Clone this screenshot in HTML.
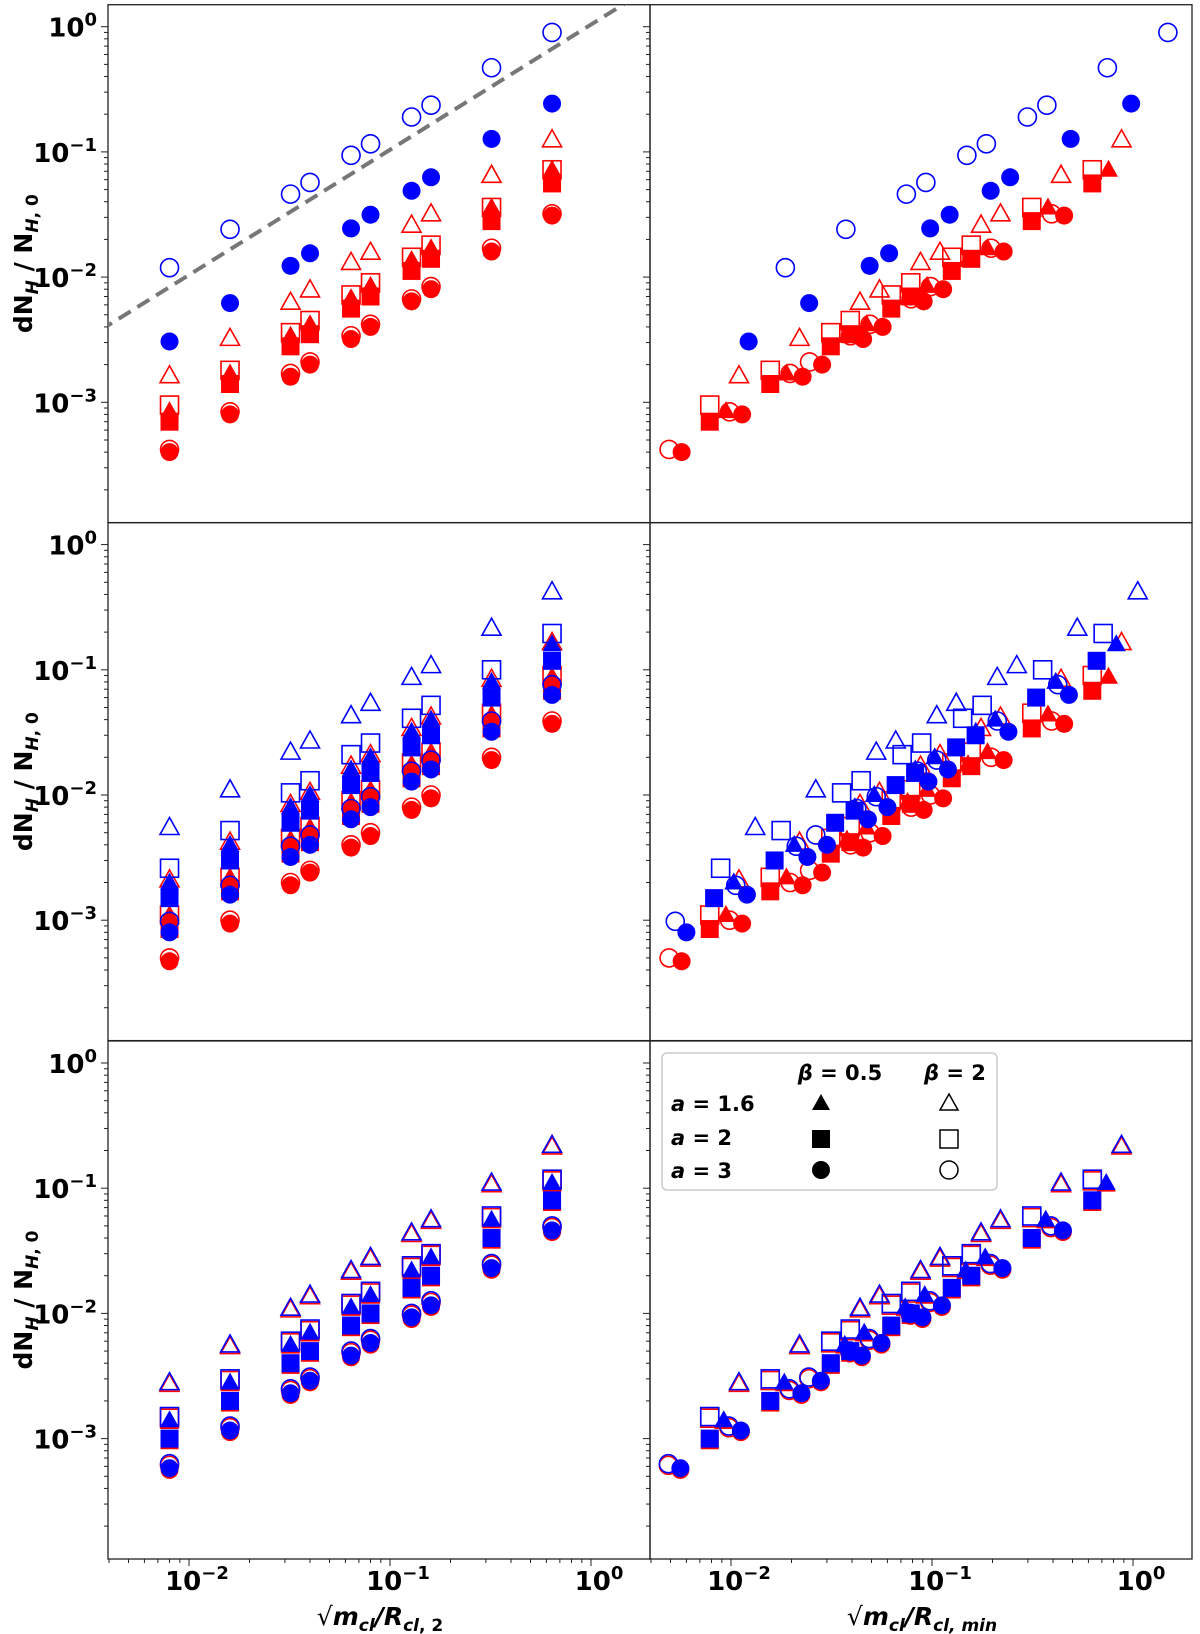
<!DOCTYPE html>
<html><head><meta charset="utf-8"><style>
body{margin:0;background:#fff}
svg{display:block;font-family:"DejaVu Sans","Liberation Sans",sans-serif}
</style></head><body>
<svg id="fig" width="1200" height="1634" viewBox="0 0 1200 1634" xmlns="http://www.w3.org/2000/svg">
<defs>
<clipPath id="clipTL"><rect x="108" y="4.7" width="542" height="518"/></clipPath>
</defs>
<g id="panels"></g>
<g id="labels"></g>
<g id="legend">
  <rect x="662" y="1053" width="335" height="137" rx="5" fill="#fff" stroke="#ccc" stroke-width="1.5"/>
  <text x="840" y="1080" text-anchor="middle" font-size="21" font-weight="bold"><tspan font-style="italic">β</tspan> = 0.5</text>
  <text x="955" y="1080" text-anchor="middle" font-size="21" font-weight="bold"><tspan font-style="italic">β</tspan> = 2</text>
  <text x="671" y="1111" font-size="21" font-weight="bold"><tspan font-style="italic">a</tspan> = 1.6</text>
  <text x="671" y="1145" font-size="21" font-weight="bold"><tspan font-style="italic">a</tspan> = 2</text>
  <text x="671" y="1178" font-size="21" font-weight="bold"><tspan font-style="italic">a</tspan> = 3</text>
  <polygon points="821,1094 830,1110 812,1110" fill="#000"/>
  <polygon points="949,1094 958,1110 940,1110" fill="none" stroke="#000" stroke-width="1.5"/>
  <rect x="812" y="1130" width="18" height="18" fill="#000"/>
  <rect x="940" y="1130" width="18" height="18" fill="none" stroke="#000" stroke-width="1.5"/>
  <circle cx="821" cy="1170" r="9" fill="#000"/>
  <circle cx="949" cy="1170" r="9" fill="none" stroke="#000" stroke-width="1.5"/>
</g>
</svg>
<script>
const xVals=[0.008,0.016,0.032,0.04,0.064,0.08,0.128,0.16,0.32,0.64];
// Row 1 (top)
const r1BlueOpenCirc=[0.0119,0.0241,0.046,0.057,0.094,0.116,0.19,0.236,0.47,0.9];
const r1BlueFillCirc=[0.00306,0.0062,0.0123,0.0155,0.0245,0.0315,0.0489,0.0627,0.127,0.243];
const r1RedOpenTri=[0.00163,0.00324,0.0063,0.0079,0.0131,0.0158,0.026,0.032,0.065,0.125];
const r1RedFillTri=[0.00085,0.0017,0.0034,0.0042,0.0068,0.0085,0.0137,0.017,0.036,0.072];
const r1RedOpenSq=[0.00095,0.0018,0.0036,0.0045,0.0072,0.009,0.0144,0.018,0.036,0.072];
const r1RedFillSq=[0.0007,0.0014,0.0028,0.0035,0.0056,0.007,0.0112,0.014,0.028,0.056];
const r1RedFillCirc=[0.0004,0.0008,0.0016,0.002,0.0032,0.004,0.0064,0.008,0.016,0.031];
const r1RedOpenCirc=[0.00042,0.00084,0.0017,0.0021,0.0034,0.0042,0.0067,0.0084,0.017,0.032];
// Row 2 (middle)
const r2BlueOpenTri=[0.0055,0.011,0.022,0.027,0.043,0.054,0.087,0.108,0.215,0.42];
const r2BlueOpenSq=[0.0026,0.0052,0.0104,0.013,0.021,0.026,0.041,0.052,0.1,0.195];
const r2BlueFillTri=[0.002,0.004,0.008,0.01,0.016,0.02,0.032,0.04,0.08,0.16];
const r2BlueFillSq=[0.0015,0.003,0.006,0.0075,0.012,0.015,0.024,0.03,0.06,0.118];
const r2BlueFillCirc=[0.0008,0.0016,0.0032,0.004,0.0064,0.008,0.0128,0.016,0.032,0.063];
const r2BlueOpenCirc=[0.00098,0.0019,0.0039,0.0048,0.0078,0.0097,0.0155,0.019,0.039,0.076];
const r2RedOpenTri=[0.0021,0.0042,0.0084,0.0105,0.017,0.021,0.034,0.042,0.084,0.165];
const r2RedFillTri=[0.0011,0.0022,0.0044,0.0055,0.0088,0.011,0.0176,0.022,0.044,0.088];
const r2RedOpenSq=[0.0011,0.0022,0.0045,0.0056,0.009,0.011,0.018,0.022,0.045,0.09];
const r2RedFillSq=[0.00085,0.0017,0.0034,0.0042,0.0068,0.0085,0.0136,0.017,0.034,0.068];
const r2RedFillCirc=[0.00047,0.00094,0.0019,0.0024,0.0038,0.0047,0.0076,0.0094,0.019,0.037];
const r2RedOpenCirc=[0.0005,0.001,0.002,0.0025,0.004,0.005,0.008,0.01,0.02,0.039];
// Row 3 (bottom)
const r3OpenTri=[0.0028,0.0056,0.011,0.014,0.022,0.028,0.044,0.056,0.11,0.22];
const r3OpenSq=[0.0015,0.003,0.006,0.0075,0.012,0.015,0.024,0.03,0.06,0.118];
const r3FillTri=[0.0014,0.0028,0.0056,0.007,0.0112,0.014,0.022,0.028,0.056,0.11];
const r3FillSq=[0.001,0.002,0.004,0.005,0.008,0.01,0.016,0.02,0.04,0.08];
const r3FillCirc=[0.00058,0.00116,0.0023,0.0029,0.0046,0.0058,0.0093,0.0116,0.023,0.046];
const r3OpenCirc=[0.00063,0.00126,0.0025,0.0031,0.005,0.0063,0.01,0.0126,0.025,0.05];
const xTickLabels=[-2,-1,0];
const yTickLabels=[0,-1,-2,-3];
const guideCoef=[1.04];

const NS='http://www.w3.org/2000/svg';
const svg=document.getElementById('fig');
const gP=document.getElementById('panels');
const gL=document.getElementById('labels');
const rowTops=[4.7,522.6,1041];
const rowH=518;
const colX0=[108,650];
function xPos(v,col){return colX0[col]+(Math.log10(v)+2.403)*201;}
function yPos(v,row){return rowTops[row]+22-Math.log10(v)*125.2;}
function mk(tag,attrs,parent){const e=document.createElementNS(NS,tag);for(const k in attrs)e.setAttribute(k,attrs[k]);parent.appendChild(e);return e;}

const BLUE='#0000ff', RED='#ff0000';
function marker(parent,shape,filled,color,cx,cy,name){
  let e;
  if(shape==='circ') e=mk('circle',{cx:cx,cy:cy,r:9},parent);
  else if(shape==='sq') e=mk('rect',{x:cx-9,y:cy-9,width:18,height:18},parent);
  else e=mk('polygon',{points:`${cx},${cy-10} ${cx+9.5},${cy+7} ${cx-9.5},${cy+7}`},parent);
  if(filled){e.setAttribute('fill',color);}
  else{e.setAttribute('fill','none');e.setAttribute('stroke',color);e.setAttribute('stroke-width','1.6');}
  
  
}
function series(row,col,vals,shape,filled,color,factor,name){
  const g=mk('g',{},gP);
  
  
  vals.forEach((v,i)=>{
    const xv=col===0?xVals[i]:xVals[i]*factor;
    marker(g,shape,filled,color,xPos(xv,col),yPos(v,row),name+'-point');
  });
}
function both(row,vals,shape,filled,color,factor,name){
  series(row,0,vals,shape,filled,color,1,name+'-left');
  series(row,1,vals,shape,filled,color,factor,name+'-right');
}
function sup(t,base,exp){const s1=document.createElementNS(NS,'tspan');s1.textContent=base;t.appendChild(s1);const s2=document.createElementNS(NS,'tspan');s2.setAttribute('font-size','18');s2.setAttribute('dy','-11');s2.textContent=exp===0?'0':'\u2212'+Math.abs(exp);t.appendChild(s2);}
for(let r=0;r<3;r++){
  for(let c=0;c<2;c++){
    const x0=colX0[c], y0=rowTops[r];
    const frame=mk('rect',{x:x0,y:y0,width:542,height:rowH,fill:'none',stroke:'#222','stroke-width':1.3},gP);
    
    
    for(let d=0;d>=-4;d--){
      for(let m=1;m<=9;m++){
        const v=m*Math.pow(10,d);const y=yPos(v,r);
        if(y<y0||y>y0+rowH)continue;
        mk('line',{x1:x0,x2:x0-(m===1?7:4),y1:y,y2:y,stroke:'#222','stroke-width':1},gP);
      }
    }
    if(r===2){
      for(let d=-3;d<=0;d++){
        for(let m=1;m<=9;m++){
          const v=m*Math.pow(10,d);const x=xPos(v,c);
          if(x<x0||x>x0+542)continue;
          mk('line',{x1:x,x2:x,y1:y0+rowH,y2:y0+rowH+(m===1?7:4),stroke:'#222','stroke-width':1},gP);
        }
      }
      xTickLabels.forEach(e=>{
        const t=mk('text',{x:xPos(Math.pow(10,e),c)+8,y:1590,'text-anchor':'middle','font-size':'26','font-weight':'bold'},gL);
        
        
        sup(t,'10',e);
      });
    }
  }
  yTickLabels.forEach(e=>{
    const t=mk('text',{x:97,y:yPos(Math.pow(10,e),r)+10,'text-anchor':'end','font-size':'26','font-weight':'bold'},gL);
    
    
    sup(t,'10',e);
  });
  const yl=mk('text',{x:0,y:0,'text-anchor':'middle','font-size':'25','font-weight':'bold',transform:`translate(32,${rowTops[r]+rowH/2}) rotate(-90)`},gL);
  
  
  yl.innerHTML='dN<tspan font-size="17" dy="6" font-style="italic">H</tspan><tspan dy="-6"> / N</tspan><tspan font-size="17" dy="6"><tspan font-style="italic">H</tspan>, 0</tspan>';
}
const gx1=0.001,gx2=3;
const guide=mk('line',{x1:xPos(gx1,0),y1:yPos(guideCoef[0]*gx1,0),x2:xPos(gx2,0),y2:yPos(guideCoef[0]*gx2,0),stroke:'#777','stroke-width':4,'stroke-dasharray':'14,8','clip-path':'url(#clipTL)'},gP);


both(0,r1RedFillCirc,'circ',true,RED,0.71,'r1-red-filled-circle');
both(0,r1RedOpenCirc,'circ',false,RED,0.615,'r1-red-open-circle');
both(0,r1RedFillSq,'sq',true,RED,0.98,'r1-red-filled-square');
both(0,r1RedOpenSq,'sq',false,RED,0.98,'r1-red-open-square');
both(0,r1RedFillTri,'tri',true,RED,1.18,'r1-red-filled-triangle');
both(0,r1RedOpenTri,'tri',false,RED,1.37,'r1-red-open-triangle');
both(0,r1BlueFillCirc,'circ',true,BLUE,1.53,'r1-blue-filled-circle');
both(0,r1BlueOpenCirc,'circ',false,BLUE,2.33,'r1-blue-open-circle');
both(1,r2RedFillCirc,'circ',true,RED,0.71,'r2-red-filled-circle');
both(1,r2RedOpenCirc,'circ',false,RED,0.615,'r2-red-open-circle');
both(1,r2RedFillSq,'sq',true,RED,0.98,'r2-red-filled-square');
both(1,r2RedOpenSq,'sq',false,RED,0.98,'r2-red-open-square');
both(1,r2RedFillTri,'tri',true,RED,1.18,'r2-red-filled-triangle');
both(1,r2RedOpenTri,'tri',false,RED,1.37,'r2-red-open-triangle');
both(1,r2BlueFillCirc,'circ',true,BLUE,0.75,'r2-blue-filled-circle');
both(1,r2BlueOpenCirc,'circ',false,BLUE,0.66,'r2-blue-open-circle');
both(1,r2BlueFillSq,'sq',true,BLUE,1.03,'r2-blue-filled-square');
both(1,r2BlueOpenSq,'sq',false,BLUE,1.11,'r2-blue-open-square');
both(1,r2BlueFillTri,'tri',true,BLUE,1.29,'r2-blue-filled-triangle');
both(1,r2BlueOpenTri,'tri',false,BLUE,1.65,'r2-blue-open-triangle');
const r3Shift=[0.97];
function shifted(a){return a.map(v=>v*r3Shift[0]);}
both(2,shifted(r3FillCirc),'circ',true,RED,0.7,'r3-red-filled-circle');
both(2,shifted(r3OpenCirc),'circ',false,RED,0.61,'r3-red-open-circle');
both(2,shifted(r3FillSq),'sq',true,RED,0.98,'r3-red-filled-square');
both(2,shifted(r3OpenSq),'sq',false,RED,0.98,'r3-red-open-square');
both(2,shifted(r3FillTri),'tri',true,RED,1.15,'r3-red-filled-triangle');
both(2,shifted(r3OpenTri),'tri',false,RED,1.37,'r3-red-open-triangle');
both(2,r3FillCirc,'circ',true,BLUE,0.7,'r3-blue-filled-circle');
both(2,r3OpenCirc,'circ',false,BLUE,0.61,'r3-blue-open-circle');
both(2,r3FillSq,'sq',true,BLUE,0.98,'r3-blue-filled-square');
both(2,r3OpenSq,'sq',false,BLUE,0.98,'r3-blue-open-square');
both(2,r3FillTri,'tri',true,BLUE,1.15,'r3-blue-filled-triangle');
both(2,r3OpenTri,'tri',false,BLUE,1.37,'r3-blue-open-triangle');
const xt1=mk('text',{x:380,y:1625,'text-anchor':'middle','font-size':'25','font-weight':'bold'},gL);


xt1.innerHTML='<tspan font-weight="normal">√</tspan><tspan font-style="italic">m<tspan font-size="17" dy="6">cl</tspan></tspan><tspan dy="-6" font-style="italic">/R</tspan><tspan font-size="17" dy="6"><tspan font-style="italic">cl</tspan>, 2</tspan>';
const xt2=mk('text',{x:922,y:1625,'text-anchor':'middle','font-size':'25','font-weight':'bold'},gL);


xt2.innerHTML='<tspan font-weight="normal">√</tspan><tspan font-style="italic">m<tspan font-size="17" dy="6">cl</tspan></tspan><tspan dy="-6" font-style="italic">/R</tspan><tspan font-size="17" dy="6" font-style="italic">cl, min</tspan>';
svg.appendChild(document.getElementById('legend'));
</script>
</body></html>
